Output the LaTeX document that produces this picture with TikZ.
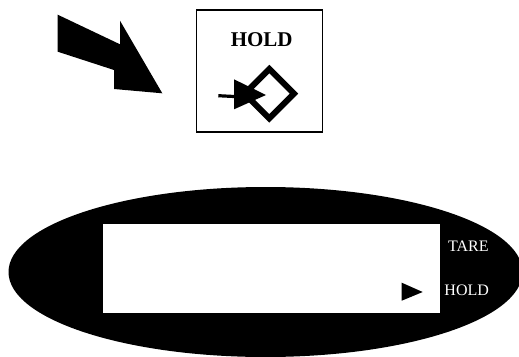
\documentclass[tikz,border=0pt]{standalone}
\usepackage{fontspec}
\setmainfont{Liberation Serif}
\tikzset{
  solidshape/.style={fill=black,draw=none},
  whitelabel/.style={text=white,font=\fontsize{16}{18}\selectfont,inner sep=0pt},
}
\begin{document}
\begin{tikzpicture}[x=1pt,y=-1pt]
\path[use as bounding box,fill=white] (0,0) rectangle (519,356);
\clip (0,0) rectangle (519,356);
% large arrow
\fill[solidshape] (57.7,14.7) -- (120,44.3) -- (120,20.7) -- (162.3,93.3) -- (114,89) -- (114,70) -- (57.7,51.7) -- cycle;
% symbol box
\node[draw=black,line width=1.3pt,minimum width=126pt,minimum height=122pt,inner sep=0pt,anchor=north west] (box) at (196,9.3) {};
\node[font=\bfseries\fontsize{21}{24}\selectfont,inner sep=0pt] (title) at (261.7,40) {HOLD};
\draw[line width=6pt,miter limit=10] (269.3,69) -- (294,93.7) -- (269.3,118.4) -- (244.6,93.7) -- cycle;
\draw[line width=3.2pt] (218.3,95.7) -- (240,96.8);
\fill[solidshape] (234,79.3) -- (266,95) -- (234,109.3) -- cycle;
% display
\fill[solidshape] (265.5,272) ellipse [x radius=257,y radius=85];
\fill[white] (103.3,224.3) rectangle (440.3,313.3);
\fill[solidshape] (401.7,282.7) -- (422.7,292) -- (401.7,300.7) -- cycle;
\node[whitelabel] (tare) at (468.3,246.7) {TARE};
\node[whitelabel] (hold) at (466.7,290.7) {HOLD};
\end{tikzpicture}
\end{document}
